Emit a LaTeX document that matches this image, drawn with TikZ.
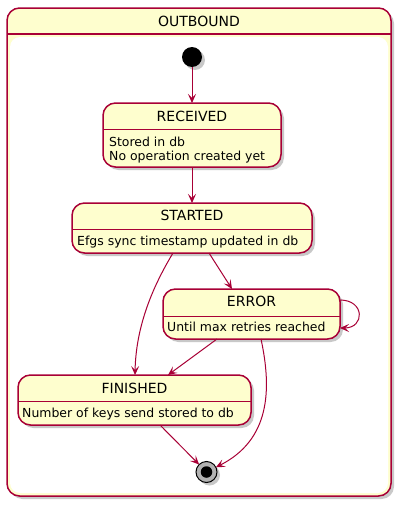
\documentclass[tikz,border=0pt]{standalone}
\usepackage{fontspec}
\setmainfont{DejaVu Sans}
\usetikzlibrary{arrows.meta,shadows}
\definecolor{bordc}{HTML}{A80036}
\definecolor{fillc}{HTML}{FEFECE}
\tikzset{
  shad/.style={drop shadow={shadow xshift=3pt,shadow yshift=-3pt,opacity=0.3,fill=black!70}},
  statebox/.style={draw=bordc,fill=fillc,line width=1.5pt,rounded corners=12.5pt,
    rectangle,inner sep=0pt,outer sep=0pt,shad},
  sep/.style={draw=bordc,line width=1pt},
  ttl/.style={anchor=base,inner sep=0pt,font=\fontsize{14}{16}\selectfont},
  desc/.style={anchor=base west,inner sep=0pt,font=\fontsize{12.45}{14}\selectfont},
  arr/.style={draw=bordc,line width=1pt,-{Stealth[length=9pt,width=8pt,inset=4pt]}},
}
\begin{document}
\begin{tikzpicture}[x=1pt,y=-1pt]
\useasboundingbox (0,0) rectangle (402,506);
% composite state
\node[statebox,minimum width=384pt,minimum height=488pt] (outb) at (199,252) {};
\fill[white,rounded corners=10pt] (10,37) rectangle (388,493);
\draw[sep,line width=1.5pt] (outb.west |- 0,34) -- (outb.east |- 0,34);
\node[ttl] (outbT) at (199,26) {OUTBOUND};
% start
\node[circle,fill=black,minimum size=20pt,inner sep=0pt,outer sep=0pt,shad] (start) at (192,57) {};
% RECEIVED
\node[statebox,minimum width=178pt,minimum height=64pt] (rec) at (192,135) {};
\draw[sep] (rec.west |- 0,129) -- (rec.east |- 0,129);
\node[ttl] (recT) at (192,121) {RECEIVED};
\node[desc] (recD1) at (109,146) {Stored in db};
\node[desc] (recD2) at (109,160) {No operation created yet};
% STARTED
\node[statebox,minimum width=240pt,minimum height=50pt] (sta) at (192,228) {};
\draw[sep] (sta.west |- 0,229) -- (sta.east |- 0,229);
\node[ttl] (staT) at (192,220.5) {STARTED};
\node[desc] (staD) at (77,245.5) {Efgs sync timestamp updated in db};
% ERROR
\node[statebox,minimum width=177pt,minimum height=50pt] (err) at (251.5,314) {};
\draw[sep] (err.west |- 0,316) -- (err.east |- 0,316);
\node[ttl] (errT) at (251.5,306.5) {ERROR};
\node[desc] (errD) at (167,331.5) {Until max retries reached};
% FINISHED
\node[statebox,minimum width=233pt,minimum height=50pt] (fin) at (134.5,400) {};
\draw[sep] (fin.west |- 0,401) -- (fin.east |- 0,401);
\node[ttl] (finT) at (134.5,393) {FINISHED};
\node[desc] (finD) at (22,417.5) {Number of keys send stored to db};
% end
\node[circle,draw=black,line width=1pt,fill=black!30,minimum size=21pt,inner sep=0pt,outer sep=0pt,shad] (end) at (206.5,472) {};
\node[circle,fill=black,minimum size=11.5pt,inner sep=0pt] (endI) at (206.5,472) {};
% transitions
\draw[arr] (start) -- (rec);
\draw[arr] (rec) -- (sta);
\draw[arr] ([xshift=17pt]sta.south) -- ([xshift=-19.5pt]err.north);
\draw[arr] ([xshift=-19pt]sta.south) .. controls (158,278) and (136,320) .. ([xshift=0.5pt]fin.north);
\draw[arr] ([xshift=-34.5pt]err.south) -- ([xshift=33.5pt]fin.north);
\draw[arr] ([yshift=14pt]err.east) .. controls +(25,0) and +(25,0) .. ([yshift=-14pt]err.east);
\draw[arr] ([xshift=9.5pt]err.south) .. controls (272,390) and (270,440) .. (end);
\draw[arr] ([xshift=25.5pt]fin.south) -- (end);
\end{tikzpicture}
\end{document}
